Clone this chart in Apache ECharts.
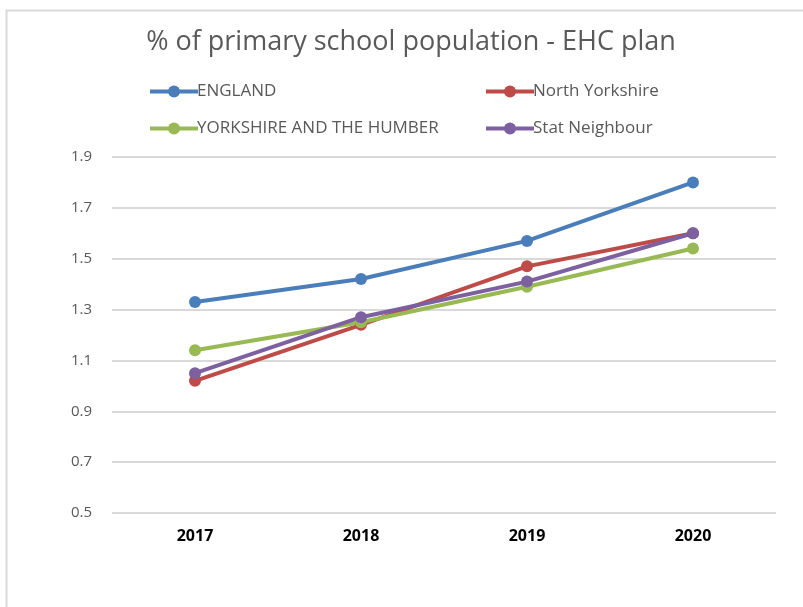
<!DOCTYPE html>
<html>
<head>
<meta charset="utf-8">
<script src="https://cdn.jsdelivr.net/npm/echarts@6/dist/echarts.min.js"></script>
<style>
  html, body { margin: 0; padding: 0; background: #ffffff; }
  #chart { width: 803px; height: 607px; }
</style>
</head>
<body>
<div id="chart"></div>
<script>
// Share of primary school pupils with an EHC plan, by area and year
const years = ['2017', '2018', '2019', '2020'];
const england = [1.33, 1.42, 1.57, 1.80];
const northYorkshire = [1.02, 1.24, 1.47, 1.60];
const yorkshireHumber = [1.14, 1.25, 1.39, 1.54];
const statNeighbour = [1.05, 1.27, 1.41, 1.60];
const yTicks = { min: 0.5, max: 1.9, step: 0.2 };

const seriesDefs = [
  { name: 'ENGLAND', data: england, color: '#4A7EBB' },
  { name: 'North Yorkshire', data: northYorkshire, color: '#BE4B48' },
  { name: 'YORKSHIRE AND THE HUMBER', data: yorkshireHumber, color: '#98B954' },
  { name: 'Stat Neighbour', data: statNeighbour, color: '#7D60A0' }
];

const font = "'Open Sans', 'Noto Sans', sans-serif";
const legendPos = [
  { left: 143, top: 78 },
  { left: 479, top: 78 },
  { left: 143, top: 115 },
  { left: 479, top: 115 }
];

const chart = echarts.init(document.getElementById('chart'), null, { renderer: 'canvas' });

chart.setOption({
  backgroundColor: '#ffffff',
  animation: false,
  graphic: [{
    type: 'rect',
    shape: { x: 6.5, y: 10.5, width: 820, height: 620 },
    style: { fill: 'none', stroke: '#d9d9d9', lineWidth: 2 },
    silent: true,
    z: -1
  }],
  title: {
    text: '% of primary school population - EHC plan',
    left: 406,
    textAlign: 'center',
    top: 24,
    textStyle: { fontFamily: font, fontSize: 27, fontWeight: 'normal', color: '#595959' }
  },
  legend: seriesDefs.map((s, i) => ({
    data: [s.name],
    left: legendPos[i].left,
    top: legendPos[i].top,
    itemWidth: 48,
    itemHeight: 15,
    itemGap: 4,
    lineStyle: { width: 4 },
    textStyle: { fontFamily: font, fontSize: 17, color: '#595959', padding: [0, 0, 0, -6] },
    selectedMode: false
  })),
  grid: { left: 112, right: 27, top: 157, bottom: 94, containLabel: false },
  xAxis: {
    type: 'category',
    data: years,
    boundaryGap: true,
    axisLine: { show: false },
    axisTick: { show: false },
    axisLabel: { margin: 15, fontFamily: font, fontSize: 16, fontWeight: 'bold', color: '#000000' }
  },
  yAxis: {
    type: 'value',
    min: yTicks.min,
    max: yTicks.max,
    interval: yTicks.step,
    axisLine: { show: false },
    axisTick: { show: false },
    axisLabel: {
      margin: 20,
      fontFamily: font, fontSize: 15, color: '#595959',
      formatter: v => v.toFixed(1)
    },
    splitLine: { lineStyle: { color: '#d9d9d9', width: 2 } }
  },
  series: seriesDefs.map(s => ({
    name: s.name,
    type: 'line',
    data: s.data,
    symbol: 'circle',
    symbolSize: 12,
    lineStyle: { width: 4, color: s.color },
    itemStyle: { color: s.color },
    emphasis: { disabled: true }
  }))
});
</script>
</body>
</html>
